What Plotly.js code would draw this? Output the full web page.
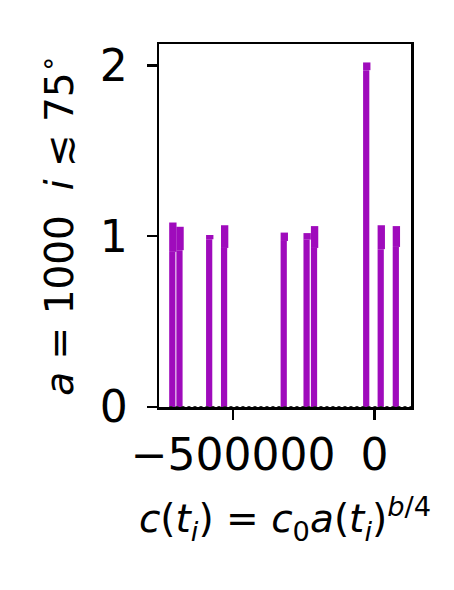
<!DOCTYPE html>
<html>
<head>
<meta charset="utf-8">
<script src="https://cdn.plot.ly/plotly-3.0.1.min.js"></script>
<style>html,body{margin:0;padding:0;background:#fff;}#chart{width:454px;height:590px;}</style>
</head>
<body>
<div id="chart"></div>
<script>
// bar positions (c(t_i)) and heights
const binCenters = [-713000, -687600, -582600, -529900, -319000, -238200, -211900, -27400, 23900, 77300];
const barHeights = [1.08, 1.055, 1.007, 1.064, 1.021, 1.018, 1.059, 2.017, 1.064, 1.059];
const capLows    = [0.908, 0.918, 0.982, 0.931, 0.972, 0.980, 0.931, 1.972, 0.924, 0.937];
const baselineX  = [-725000, 129000];
const baselineY  = [0, 0];
const yTicks = [0, 1, 2];
const xTicks = [-500000, 0];
const xTickText = ['\u2212500000', '0'];

const purple = '#9f0bbc';
const binWidth = 26000;
const bodyWidth = 22000;

const capHeights = barHeights.map((h, i) => h - capLows[i]);

const traces = [
  {
    type: 'bar', x: binCenters, y: capLows,
    width: bodyWidth, offset: -binWidth / 2,
    marker: {color: purple, line: {width: 0}},
    hoverinfo: 'skip', showlegend: false
  },
  {
    type: 'bar', x: binCenters, y: capHeights, base: capLows,
    width: binWidth, offset: -binWidth / 2,
    marker: {color: purple, line: {width: 0}},
    hoverinfo: 'skip', showlegend: false
  },
  {
    type: 'scatter', mode: 'lines', x: baselineX, y: baselineY,
    line: {color: '#333', width: 2, dash: 'dot'},
    hoverinfo: 'skip', showlegend: false
  }
];

const fontFam = 'DejaVu Sans, sans-serif';
const layout = {
  width: 454, height: 590,
  margin: {l: 159, r: 43, t: 44, b: 183, pad: 0},
  paper_bgcolor: '#fff', plot_bgcolor: '#fff',
  barmode: 'overlay',
  font: {family: fontFam, color: '#000'},
  xaxis: {
    range: [-762000, 129000],
    tickvals: xTicks, ticktext: xTickText,
    ticks: 'outside', ticklen: 10, tickwidth: 2.5, tickcolor: '#000',
    tickfont: {size: 44, family: fontFam},
    ticklabelstandoff: -2,
    showline: true, linecolor: '#000', linewidth: 2.5, mirror: true,
    showgrid: false, zeroline: false,
    title: {text: '<i>c</i>(<i>t<sub>i</sub></i>) = <i>c</i><sub>0</sub><i>a</i>(<i>t<sub>i</sub></i>)<sup><i>b</i>/4</sup>',
            font: {size: 39, family: fontFam}, standoff: 26}
  },
  yaxis: {
    range: [0, 2.125],
    tickvals: yTicks,
    ticks: 'outside', ticklen: 10, tickwidth: 2.5, tickcolor: '#000',
    tickfont: {size: 44, family: fontFam},
    ticklabelstandoff: 10,
    showline: true, linecolor: '#000', linewidth: 2.5, mirror: true,
    showgrid: false, zeroline: false,
    title: {text: '<i>a</i> = 1000  <i>i</i> \u2272 75<sup>\u2218</sup>',
            font: {size: 39, family: fontFam}, standoff: 14}
  }
};

Plotly.newPlot('chart', traces, layout, {staticPlot: true, displayModeBar: false});
</script>
</body>
</html>
